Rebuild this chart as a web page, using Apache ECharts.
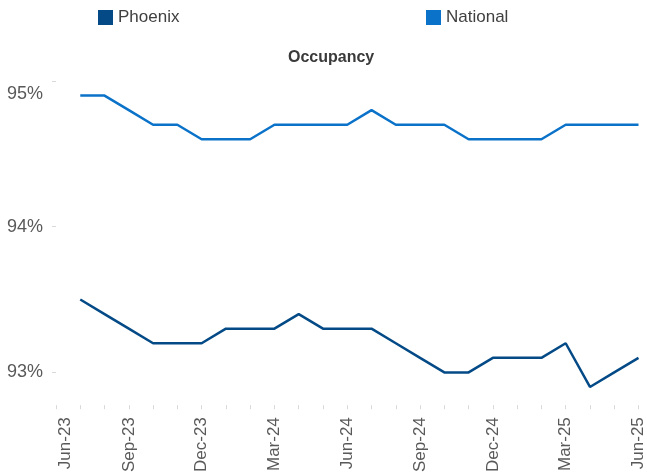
<!DOCTYPE html>
<html><head><meta charset="utf-8">
<script src="https://cdn.jsdelivr.net/npm/echarts@6/dist/echarts.min.js"></script>
<style>html,body{margin:0;padding:0;background:#fff}#c{width:647px;height:475px}</style>
</head><body><div id="c"></div>
<script>
const categories = ['Jun-23','Jul-23','Aug-23','Sep-23','Oct-23','Nov-23','Dec-23','Jan-24','Feb-24','Mar-24','Apr-24','May-24','Jun-24','Jul-24','Aug-24','Sep-24','Oct-24','Nov-24','Dec-24','Jan-25','Feb-25','Mar-25','Apr-25','May-25','Jun-25'];
const phoenix = [null,93.5,93.4,93.3,93.2,93.2,93.2,93.3,93.3,93.3,93.4,93.3,93.3,93.3,93.2,93.1,93.0,93.0,93.1,93.1,93.1,93.2,92.9,93.0,93.1];
const national = [null,94.9,94.9,94.8,94.7,94.7,94.6,94.6,94.6,94.7,94.7,94.7,94.7,94.8,94.7,94.7,94.7,94.6,94.6,94.6,94.6,94.7,94.7,94.7,94.7];
const yTicks = [93,94,95];
const titleText = 'Occupancy';

const chart = echarts.init(document.getElementById('c'), null, {renderer:'canvas'});
const font = '"Liberation Sans", Arial, sans-serif';
chart.setOption({
  animation:false,
  title:{text:titleText, left:283, top:45, textStyle:{fontFamily:font, fontSize:16, fontWeight:'bold', color:'#3a3a3a'}},
  legend:[
    {data:['Phoenix'], left:98, top:9, padding:0, itemWidth:15, itemHeight:15, itemGap:7, icon:'rect', textStyle:{fontFamily:font, fontSize:17, color:'#404040'}},
    {data:['National'], left:426, top:9, padding:0, itemWidth:15, itemHeight:15, itemGap:7, icon:'rect', textStyle:{fontFamily:font, fontSize:17, color:'#404040'}}
  ],
  grid:{left:56, right:8, top:81, bottom:68},
  xAxis:{type:'category', data:categories, boundaryGap:false,
    axisLine:{show:false},
    axisTick:{show:true, length:4, alignWithLabel:true, interval:0, lineStyle:{color:'#d9d9d9'}},
    axisLabel:{interval:2, rotate:90, margin:12, fontFamily:font, fontSize:17, color:'#595959',
      formatter:function(v, i){ return i===0 ? '{f|'+v+'}' : v; },
      rich:{f:{fontFamily:font, fontSize:17, color:'#595959', padding:[18,0,0,0]}}},
    splitLine:{show:false}},
  yAxis:{type:'value', min:92.775, max:95,
    axisLine:{show:false},
    axisTick:{show:true, length:4, customValues:yTicks, lineStyle:{color:'#d9d9d9'}},
    axisLabel:{customValues:yTicks, margin:13, fontFamily:font, fontSize:18, color:'#595959',
      formatter:function(v){ return v>=94.99 ? '{t|'+Math.round(v)+'%}' : Math.round(v)+'%'; },
      rich:{t:{fontFamily:font, fontSize:18, color:'#595959', padding:[26,0,0,0]}}},
    splitLine:{show:false}},
  series:[
    {name:'Phoenix', type:'line', data:phoenix, color:'#044A86', symbol:'none', lineStyle:{width:2.5, color:'#044A86'}},
    {name:'National', type:'line', data:national, color:'#0A72C8', symbol:'none', lineStyle:{width:2.5, color:'#0A72C8'}}
  ]
});
</script></body></html>
